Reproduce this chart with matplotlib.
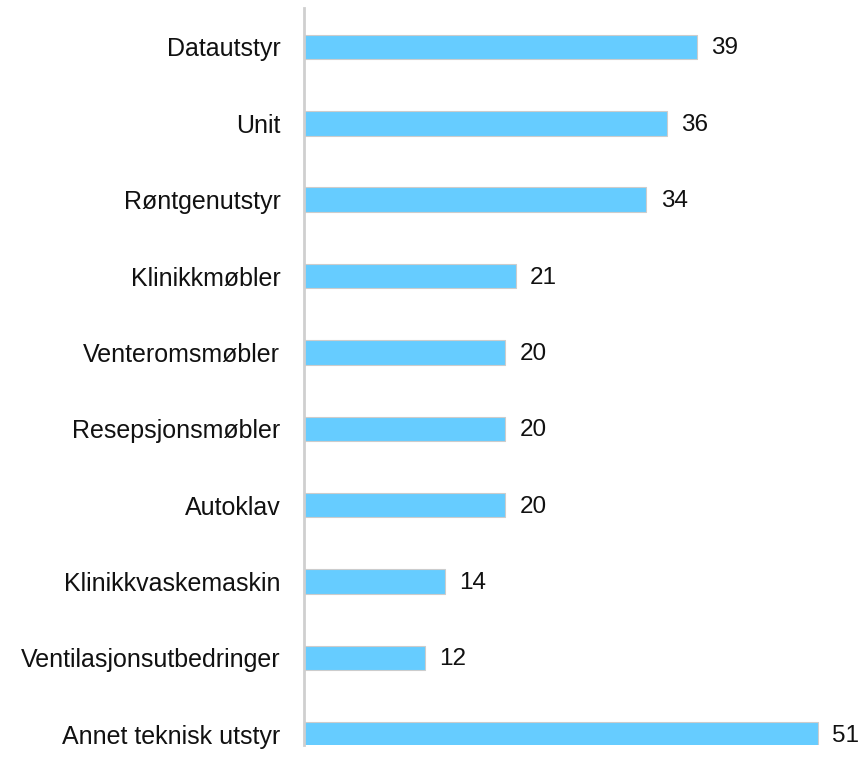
import matplotlib
matplotlib.use('Agg')
import matplotlib.pyplot as plt

categories = ['Datautstyr', 'Unit', 'Røntgenutstyr', 'Klinikkmøbler', 'Venteromsmøbler',
              'Resepsjonsmøbler', 'Autoklav', 'Klinikkvaskemaskin', 'Ventilasjonsutbedringer',
              'Annet teknisk utstyr']
values = [39, 36, 34, 21, 20, 20, 20, 14, 12, 51]

plt.rcParams['font.family'] = ['Liberation Sans', 'DejaVu Sans']

fig = plt.figure(figsize=(8.66, 7.67), dpi=100)
W, H = 866, 767
ax = fig.add_axes([304 / W, 1 - 745 / H, 554 / W, 737 / H])

y = list(range(len(categories)))
ax.barh(y, values, height=0.32, color='#66CCFF', edgecolor='#CCCCCC', linewidth=0.8)

for yi, v in zip(y, values):
    ax.text(v + 1.4, yi + 0.02, str(v), va='center', ha='left', fontsize=17.5, color='#111111')

ax.set_xlim(0, 55)
ax.set_ylim(9.14, -0.51)
ax.set_yticks(y)
ax.set_yticklabels(categories, fontsize=18, color='#111111')
ax.tick_params(axis='y', length=0, pad=17)
ax.set_xticks([])

for s in ['top', 'right', 'bottom']:
    ax.spines[s].set_visible(False)
ax.spines['left'].set_color('#CFCFCF')
ax.spines['left'].set_linewidth(2)

fig.savefig('out.png', dpi=100)
